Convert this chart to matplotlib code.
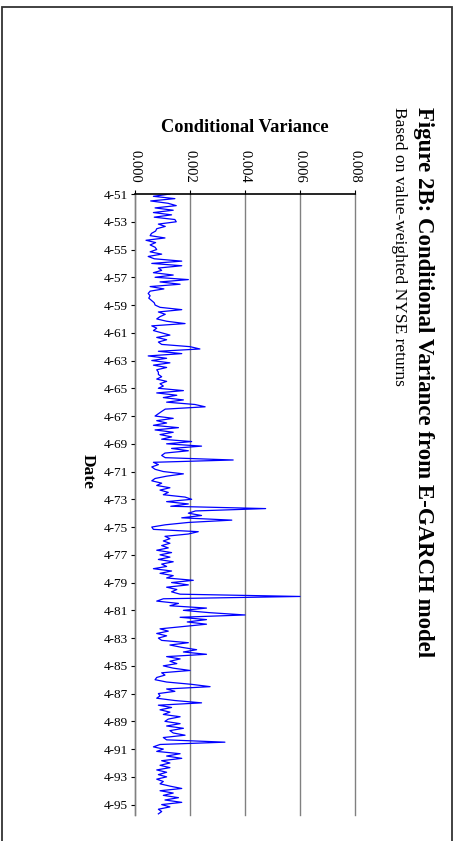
import matplotlib
matplotlib.use("Agg")
import matplotlib.pyplot as plt
import matplotlib.dates as mdates
from matplotlib.patches import Rectangle
import numpy as np
import pandas as pd

# Conditional variance (x 1e-3), bi-monthly samples starting April 1951, one row per year
var_e3 = [
    1.27, 0.67, 1.45, 0.57, 1.20, 1.50,   # 1951
    0.73, 1.39, 0.67, 1.33, 0.70, 1.45,   # 1952
    1.50, 0.85, 1.10, 0.79, 0.75, 0.60,   # 1953
    0.55, 1.09, 0.40, 0.75, 0.55, 0.73,   # 1954
    0.79, 0.55, 0.97, 0.48, 0.70, 1.70,   # 1955
    0.61, 1.70, 0.85, 0.97, 0.67, 1.39,   # 1956
    0.73, 1.94, 0.91, 1.64, 0.55, 1.05,   # 1957
    0.55, 0.48, 0.55, 0.50, 0.60, 0.70,   # 1958
    0.73, 0.91, 1.70, 0.85, 1.10, 0.91,   # 1959
    0.79, 1.15, 1.82, 0.61, 0.79, 0.67,   # 1960
    0.97, 1.27, 0.79, 1.15, 0.85, 0.97,   # 1961
    2.00, 2.36, 0.85, 1.70, 0.48, 1.15,   # 1962
    0.61, 1.27, 0.67, 1.15, 0.79, 0.85,   # 1963
    0.85, 0.97, 0.79, 1.15, 0.91, 1.03,   # 1964
    0.85, 1.76, 0.79, 1.52, 1.03, 1.76,   # 1965
    1.15, 2.18, 2.55, 1.10, 0.97, 0.85,   # 1966
    0.73, 1.39, 0.79, 1.15, 0.67, 1.58,   # 1967
    0.73, 1.39, 0.91, 1.33, 0.97, 2.06,   # 1968
    1.15, 2.42, 1.33, 1.94, 1.09, 0.97,   # 1969
    1.10, 3.57, 0.67, 0.85, 0.61, 0.73,   # 1970
    1.03, 1.76, 1.15, 0.73, 0.61, 0.97,   # 1971
    0.79, 1.27, 0.91, 1.21, 1.03, 1.82,   # 1972
    2.06, 1.15, 1.94, 1.30, 4.75, 2.20,   # 1973
    1.94, 2.42, 1.70, 3.52, 1.94, 1.10,   # 1974
    0.61, 0.67, 2.30, 1.94, 1.09, 1.27,   # 1975
    1.03, 1.27, 0.97, 1.21, 0.79, 1.33,   # 1976
    0.91, 1.27, 0.85, 1.39, 0.97, 1.15,   # 1977
    0.67, 1.33, 0.91, 1.39, 1.15, 2.12,   # 1978
    1.33, 1.94, 1.15, 1.52, 1.33, 1.64,   # 1979
    6.00, 1.03, 0.79, 1.58, 1.27, 2.60,   # 1980
    1.76, 2.70, 4.00, 1.64, 2.60, 1.90,   # 1981
    2.60, 1.76, 0.91, 1.21, 0.79, 1.15,   # 1982
    0.85, 0.97, 1.94, 1.27, 1.70, 2.24,   # 1983
    1.76, 2.60, 1.15, 1.64, 1.27, 1.52,   # 1984
    1.03, 1.39, 2.00, 0.97, 1.09, 0.79,   # 1985
    0.73, 1.15, 2.06, 2.73, 1.15, 1.45,   # 1986
    0.85, 0.91, 0.79, 1.45, 2.42, 0.85,   # 1987
    1.33, 0.91, 1.27, 1.03, 1.64, 1.21,   # 1988
    1.09, 1.64, 1.15, 1.76, 1.27, 1.39,   # 1989
    1.82, 1.03, 1.15, 3.27, 0.91, 0.67,   # 1990
    1.03, 0.79, 1.64, 1.15, 1.70, 0.97,   # 1991
    1.27, 0.91, 1.27, 0.79, 1.15, 0.85,   # 1992
    1.15, 0.79, 1.03, 0.91, 1.27, 1.70,   # 1993
    0.91, 1.39, 1.03, 1.58, 1.09, 1.70,   # 1994
    0.97, 1.27, 0.85, 0.97, 0.85,         # 1995
]
dates = pd.date_range("1951-04-01", periods=len(var_e3), freq="2MS")
date_ticks = pd.date_range("1951-04-01", "1995-04-01", freq="24MS")
var_ticks = [0.000, 0.002, 0.004, 0.006, 0.008]

title = "Figure 2B: Conditional Variance from E-GARCH model"
subtitle = "Based on value-weighted NYSE returns"

plt.rcParams['font.family'] = ['Liberation Serif', 'DejaVu Serif']

W, H = 455, 841
fig = plt.figure(figsize=(W / 100, H / 100), dpi=100)

def fx(px):
    return px / W

def fy(py):
    return 1 - py / H

# page border
fig.add_artist(Rectangle((fx(1.5), fy(900)), fx(450.5), (900 - 7) / H, transform=fig.transFigure,
                         fill=False, edgecolor='#333333', linewidth=1.3, clip_on=False))

# plot area (rotated chart: values run left->right, dates run top->bottom)
ax = fig.add_axes([fx(135), fy(815), fx(355) - fx(135), (815 - 194) / H])
ax.plot(np.array(var_e3) * 1e-3, dates, color='#0000ff', linewidth=0.9)

ax.set_xlim(0, 0.008)
ax.set_ylim(pd.Timestamp("1995-12-31"), pd.Timestamp("1951-04-01"))

ax.set_xticks(var_ticks)
ax.set_xticklabels([f"{v:.3f}" for v in var_ticks], rotation=270, fontsize=10.5)
ax.xaxis.tick_top()
ax.tick_params(axis='x', direction='out', length=3, width=0.8, pad=5, colors='black')

ax.set_yticks(mdates.date2num(date_ticks))
ax.set_yticklabels([f"{d.month}-{d.strftime('%y')}" for d in date_ticks], fontsize=9.5)
ax.tick_params(axis='y', direction='out', length=3, width=0.8, pad=2)

ax.grid(axis='x', color='#808080', linewidth=1.0)
for gl in ax.get_xgridlines():
    gl.set_clip_on(False)
ax.set_axisbelow(True)
for side in ['right', 'bottom']:
    ax.spines[side].set_visible(False)
ax.spines['top'].set_color('black')
ax.spines['top'].set_linewidth(1.2)
ax.spines['left'].set_color('#808080')
ax.spines['left'].set_linewidth(1.0)

# titles
fig.text(fx(423), fy(107), title, rotation=270, ha='center', va='top',
         fontsize=16.5, fontweight='bold')
fig.text(fx(399), fy(107), subtitle, rotation=270, ha='center', va='top', fontsize=12.5)
fig.text(fx(245), fy(128), "Conditional Variance", ha='center', va='center',
         fontsize=13.2, fontweight='bold')
fig.text(fx(88), fy(472), "Date", rotation=270, ha='center', va='center',
         fontsize=12.5, fontweight='bold')

fig.savefig("out.png", dpi=100)
